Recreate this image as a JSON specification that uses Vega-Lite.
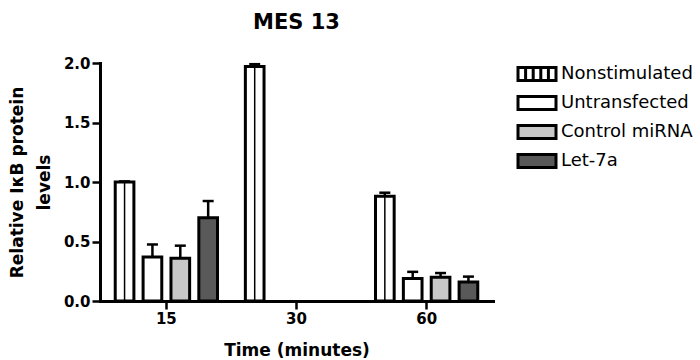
{
  "$schema": "https://vega.github.io/schema/vega-lite/v6.json",
  "width": 393,
  "height": 238,
  "autosize": {"type": "none"},
  "padding": {"left": 100, "top": 63, "right": 207, "bottom": 59},
  "background": "white",
  "title": {"text": "MES 13", "font": "DejaVu Sans", "fontSize": 21, "fontWeight": "bold", "color": "black", "anchor": "middle", "offset": 23},
  "data": {
    "values": [
      {"time": "15", "group": "Nonstimulated", "value": 1.0, "upper": 1.005},
      {"time": "15", "group": "Untransfected", "value": 0.37, "upper": 0.475},
      {"time": "15", "group": "Control miRNA", "value": 0.36, "upper": 0.465},
      {"time": "15", "group": "Let-7a", "value": 0.70, "upper": 0.84},
      {"time": "30", "group": "Nonstimulated", "value": 1.97, "upper": 1.99},
      {"time": "60", "group": "Nonstimulated", "value": 0.88, "upper": 0.91},
      {"time": "60", "group": "Untransfected", "value": 0.19, "upper": 0.245},
      {"time": "60", "group": "Control miRNA", "value": 0.20, "upper": 0.235},
      {"time": "60", "group": "Let-7a", "value": 0.16, "upper": 0.205}
    ]
  },
  "encoding": {
    "x": {
      "field": "time", "type": "nominal", "sort": ["15", "30", "60"],
      "scale": {"domain": ["15", "30", "60"], "paddingInner": 0, "paddingOuter": 0.01},
      "axis": {"title": "Time (minutes)", "labelAngle": 0, "labelPadding": 2, "titlePadding": 16}
    },
    "xOffset": {
      "field": "group", "type": "nominal",
      "scale": {"domain": ["Nonstimulated", "Untransfected", "Control miRNA", "Let-7a"], "paddingInner": 0.33, "paddingOuter": 0.5}
    }
  },
  "layer": [
    {
      "mark": {"type": "bar", "stroke": "black", "strokeWidth": 3},
      "encoding": {
        "y": {
          "field": "value", "type": "quantitative",
          "scale": {"domain": [0, 2], "nice": false, "zero": true},
          "axis": {"values": [0, 0.5, 1, 1.5, 2], "format": ".1f", "title": ["Relative IκB protein", "levels"], "labelPadding": 2, "titleLineHeight": 27, "titlePadding": 10}
        },
        "color": {
          "field": "group", "type": "nominal",
          "scale": {"domain": ["Nonstimulated", "Untransfected", "Control miRNA", "Let-7a"], "range": ["white", "white", "#c8c8c8", "#595959"]},
          "legend": {
            "title": null, "orient": "none", "legendX": 426, "legendY": 0,
            "symbolType": "M-2,-0.68H2V0.68H-2Z", "symbolSize": 361,
            "symbolStrokeColor": "black", "symbolStrokeWidth": 3,
            "labelFont": "DejaVu Sans", "labelFontSize": 18, "labelColor": "black", "labelOffset": 13, "rowPadding": 3,
            "encode": {
              "symbols": {
                "update": {
                  "shape": {"signal": "datum.value === 'Nonstimulated' ? 'M-2,-0.68H2V0.68H-2Z M-1.2,-0.68V0.68 M-0.4,-0.68V0.68 M0.4,-0.68V0.68 M1.2,-0.68V0.68' : 'M-2,-0.68H2V0.68H-2Z'"},
                  "stroke": {"value": "black"},
                  "strokeWidth": {"value": 3},
                  "opacity": {"value": 1}
                }
              }
            }
          }
        }
      }
    },
    {
      "transform": [{"filter": "datum.group === 'Nonstimulated'"}],
      "mark": {"type": "rule", "strokeWidth": 1.5, "color": "black"},
      "encoding": {
        "y": {"field": "value", "type": "quantitative"},
        "y2": {"datum": 0}
      }
    },
    {
      "mark": {"type": "rule", "strokeWidth": 2.5, "color": "black"},
      "encoding": {
        "y": {"field": "value", "type": "quantitative"},
        "y2": {"field": "upper"}
      }
    },
    {
      "mark": {"type": "tick", "orient": "horizontal", "size": 11, "thickness": 2.5, "color": "black", "opacity": 1},
      "encoding": {
        "y": {"field": "upper", "type": "quantitative"}
      }
    }
  ],
  "config": {
    "view": {"stroke": null},
    "axis": {
      "grid": false,
      "domainColor": "black", "domainWidth": 3, "domainCap": "square",
      "tickColor": "black", "tickWidth": 2.5, "tickSize": 8,
      "labelFont": "DejaVu Sans", "labelFontWeight": "bold", "labelFontSize": 15, "labelColor": "black",
      "titleFont": "DejaVu Sans", "titleFontWeight": "bold", "titleFontSize": 17, "titleColor": "black"
    }
  }
}
